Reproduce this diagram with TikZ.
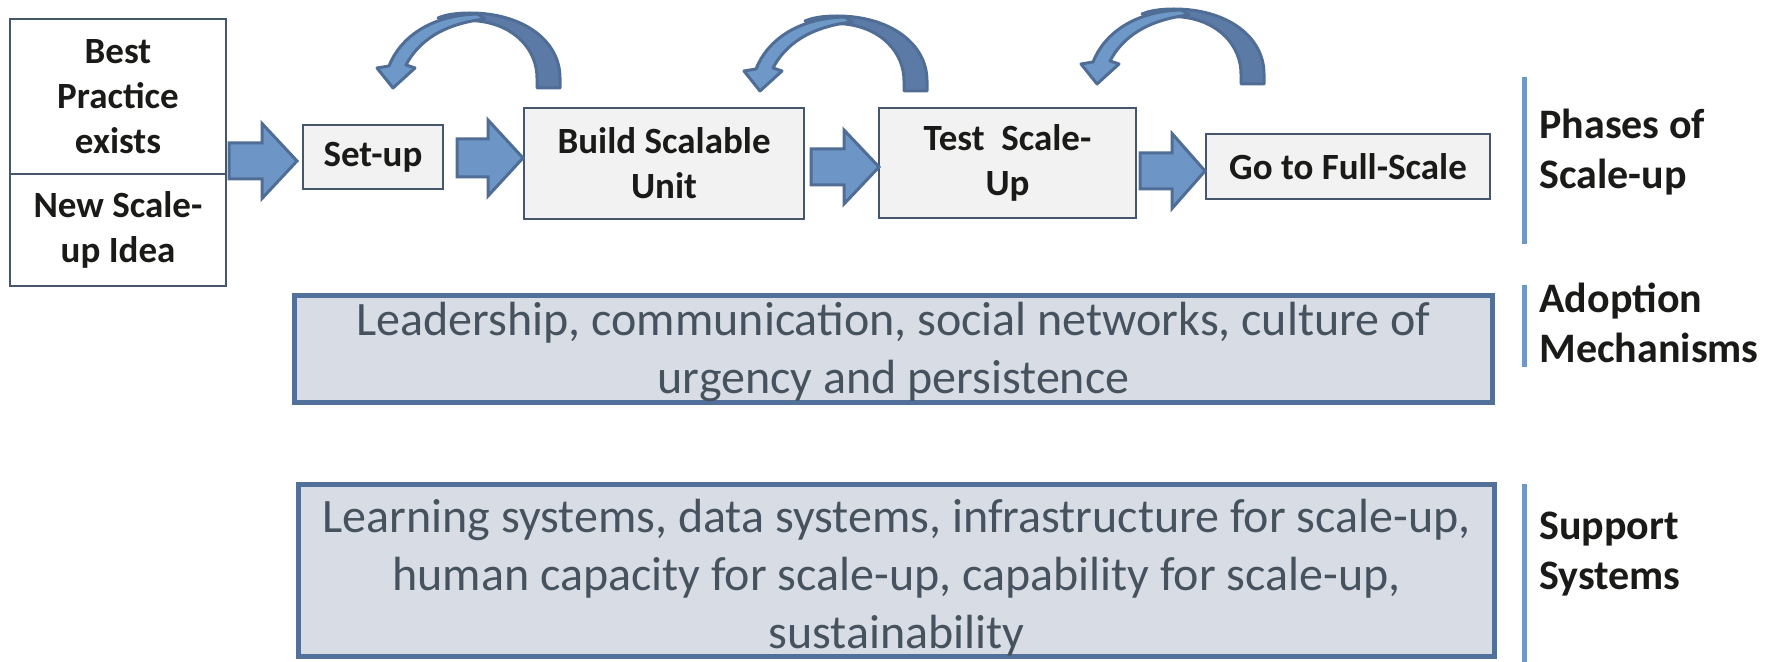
\documentclass[tikz,border=0pt]{standalone}
\usepackage{fontspec}
\setmainfont{Carlito}
\definecolor{arrowfill}{HTML}{6D96C6}
\definecolor{arrowline}{HTML}{4F6D95}
\definecolor{curvedark}{HTML}{5B7BA6}
\definecolor{curvelight}{HTML}{6E98C8}
\definecolor{boxfill}{HTML}{F2F2F2}
\definecolor{boxline}{HTML}{46566C}
\definecolor{bigfill}{HTML}{D8DDE5}
\definecolor{bigline}{HTML}{53709A}
\definecolor{bigtextc}{HTML}{46525E}
\definecolor{labeltext}{HTML}{1A1A18}
\definecolor{sidelinec}{HTML}{6F98C9}
\newcommand{\blockarr}[6]{%
  \draw[blockarrow] (#1,#4-#5) -- (#2,#4-#5) -- (#2,#4-#6) -- (#3,#4) -- (#2,#4+#6) -- (#2,#4+#5) -- (#1,#4+#5) -- cycle;}
\newcommand{\curvearr}[2]{%
  \begin{scope}[shift={(#1,#2)}]
    \draw[curvearrow, fill=curvedark] (560,88) -- (560,78) .. controls (560,40) and (522,13) .. (470,13)
      .. controls (455,13) and (445,15) .. (438,18) .. controls (450,19) and (465,20) .. (478,21)
      .. controls (515,25) and (537,50) .. (537,78) -- (537,88) -- cycle;
    \draw[curvearrow, fill=curvelight] (478,14) .. controls (430,15) and (400,38) .. (389,66)
      -- (377,68) -- (393,88) -- (415,68) -- (406,65) .. controls (418,42) and (442,24) .. (485,19) -- cycle;
  \end{scope}}
\begin{document}
\begin{tikzpicture}[x=0.5pt,y=-0.5pt,
  phase/.style={draw=boxline, line width=1pt, fill=boxfill, text=labeltext, align=center, inner sep=0pt,
    font=\bfseries\fontsize{18.5pt}{22.5pt}\selectfont},
  origin/.style={phase, fill=white},
  bigbox/.style={draw=bigline, line width=2.5pt, fill=bigfill, inner sep=0pt},
  bigtxt/.style={text=bigtextc, align=center, inner sep=0pt, font=\fontsize{24pt}{29pt}\selectfont},
  side/.style={text=labeltext, align=left, inner sep=0pt, anchor=west, font=\bfseries\fontsize{21pt}{25pt}\selectfont},
  sideline/.style={draw=sidelinec, line width=2.5pt},
  blockarrow/.style={draw=arrowline, fill=arrowfill, line width=1.5pt, line join=miter},
  curvearrow/.style={draw=arrowline, line width=1.5pt, line join=round}]
\useasboundingbox (0,0) rectangle (1775,662);

% origin boxes
\node[origin, minimum width=108pt, minimum height=77.5pt] (bp) at (118,96.5) {Best\\Practice\\exists};
\node[origin, minimum width=108pt, minimum height=56pt] (ns) at (118,230) {New Scale-\\up Idea};

% phases
\node[phase, minimum width=70pt, minimum height=32pt] (setup) at (373,157) {Set-up};
\node[phase, minimum width=140pt, minimum height=55.5pt] (build) at (664,163.5) {Build Scalable\\Unit};
\node[phase, minimum width=128.5pt, minimum height=55pt] (test) at (1007.5,163) {Test\ \ Scale-\\Up};
\node[phase, minimum width=142pt, minimum height=32.5pt] (full) at (1348,166.5) {Go to Full-Scale};

% block arrows
\blockarr{229}{262}{297}{161}{18}{37.5}
\blockarr{457}{488}{523}{158}{19}{38}
\blockarr{811}{844}{879}{167}{18}{37}
\blockarr{1140}{1172}{1205}{171}{18}{37.5}

% curved feedback arrows
\curvearr{0}{0}
\curvearr{367}{3}
\curvearr{704}{-4}

% big boxes
\node[bigbox, minimum width=599pt, minimum height=53.5pt] (adopt) at (893.5,349) {};
\node[bigtxt] (adopttxt) at (893.5,352) {Leadership, communication, social networks, culture of\\urgency and persistence};
\node[bigbox, minimum width=598pt, minimum height=86pt] (supp) at (896.5,570.5) {};
\node[bigtxt] (supptxt) at (896.5,577.5) {Learning systems, data systems, infrastructure for scale-up,\\human capacity for scale-up, capability for scale-up,\\sustainability};

% side rules
\coordinate (l1a) at (1524,77); \coordinate (l1b) at (1524,244);
\coordinate (l2a) at (1524,285); \coordinate (l2b) at (1524,367);
\coordinate (l3a) at (1524,484); \coordinate (l3b) at (1524,662);
\draw[sideline] (l1a) -- (l1b);
\draw[sideline] (l2a) -- (l2b);
\draw[sideline] (l3a) -- (l3b);

% side labels
\node[side] (phl) at (1539,152.5) {Phases of\\Scale-up};
\node[side] (adl) at (1539,323) {Adoption\\Mechanisms};
\node[side] (spl) at (1539,554.5) {Support\\Systems};
\end{tikzpicture}
\end{document}
